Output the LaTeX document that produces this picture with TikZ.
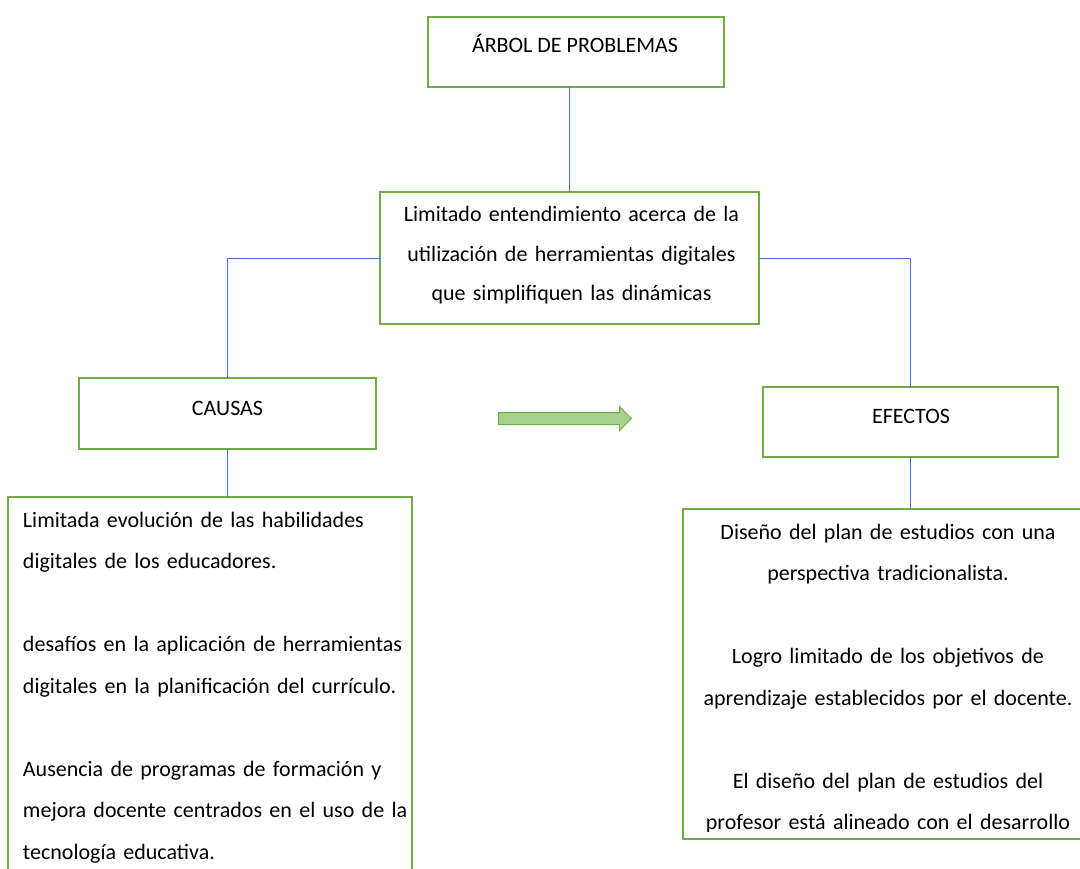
\documentclass[tikz,border=0pt]{standalone}
\usepackage{fontspec}
\setmainfont{Carlito}
\usetikzlibrary{shapes.arrows}
\definecolor{boxgreen}{HTML}{70AD47}
\definecolor{arrowfill}{HTML}{A9D18E}
\definecolor{linkblue}{HTML}{4472C4}
\tikzset{
  gbox/.style={draw=boxgreen, line width=2pt, rectangle, inner sep=0pt, outer sep=0pt},
  link/.style={draw=linkblue, line width=0.9pt},
  txt/.style={inner sep=0pt, outer sep=0pt, font=\fontsize{22}{41.5}\selectfont, text=black},
}
\begin{document}
\begin{tikzpicture}[x=1pt,y=-1pt]
\useasboundingbox (0,0) rectangle (1080,869);
\clip (0,0) rectangle (1080,869);
\fill[white] (0,0) rectangle (1080,869);
% boxes
\node[gbox, minimum width=296pt, minimum height=70pt] (top) at (576,52) {};
\node[gbox, minimum width=379pt, minimum height=132pt] (central) at (569.5,258) {};
\node[gbox, minimum width=297pt, minimum height=71pt] (causas) at (227.5,413.5) {};
\node[gbox, minimum width=295pt, minimum height=70pt] (efectos) at (910.5,422) {};
\node[gbox, minimum width=404pt, minimum height=403pt] (cbox) at (210,698.5) {};
\node[gbox, minimum width=412pt, minimum height=330pt] (ebox) at (889,674) {};
% texts
\node[txt, anchor=base] (ttop) at (575,53) {ÁRBOL DE PROBLEMAS};
\node[txt, anchor=base] (tcausas) at (227.5,415) {CAUSAS};
\node[txt, anchor=base] (tefectos) at (911,423) {EFECTOS};
\node[txt, font=\fontsize{22}{39.5}\selectfont, text width=400pt, align=center, anchor=base] (tcentral) at (571.5,222)
  {Limitado entendimiento acerca de la\\ utilización de herramientas digitales\\ que simplifiquen las dinámicas};
\node[txt, text width=440pt, align=left, anchor=base west] (tcbox) at (23,527)
  {Limitada evolución de las habilidades\\ digitales de los educadores.\\[41.5pt]
   desafíos en la aplicación de herramientas\\ digitales en la planificación del currículo.\\[41.5pt]
   Ausencia de programas de formación y\\ mejora docente centrados en el uso de la\\ tecnología educativa.};
\begin{scope}
\clip (684,510) rectangle (1080,831);
\node[txt, text width=440pt, align=center, anchor=base] (tebox) at (888,539)
  {Diseño del plan de estudios con una\\ perspectiva tradicionalista.\\[41.5pt]
   Logro limitado de los objetivos de\\ aprendizaje establecidos por el docente.\\[41.5pt]
   El diseño del plan de estudios del\\ profesor está alineado con el desarrollo};
\end{scope}
% arrow
\node[single arrow, draw=boxgreen, fill=arrowfill, line width=1pt, inner xsep=0pt, inner ysep=5.5pt,
      minimum height=133pt, single arrow head extend=6pt, anchor=west] (arr) at (498,418.5) {};
% connectors
\draw[link] (central.north) -- (central.north |- top.south);
\draw[link] (central.west) -| (causas.north);
\draw[link] (central.east) -| (efectos.north);
\draw[link] (causas.south) -- (causas.south |- cbox.north);
\draw[link] (efectos.south) -- (efectos.south |- ebox.north);
\end{tikzpicture}
\end{document}
